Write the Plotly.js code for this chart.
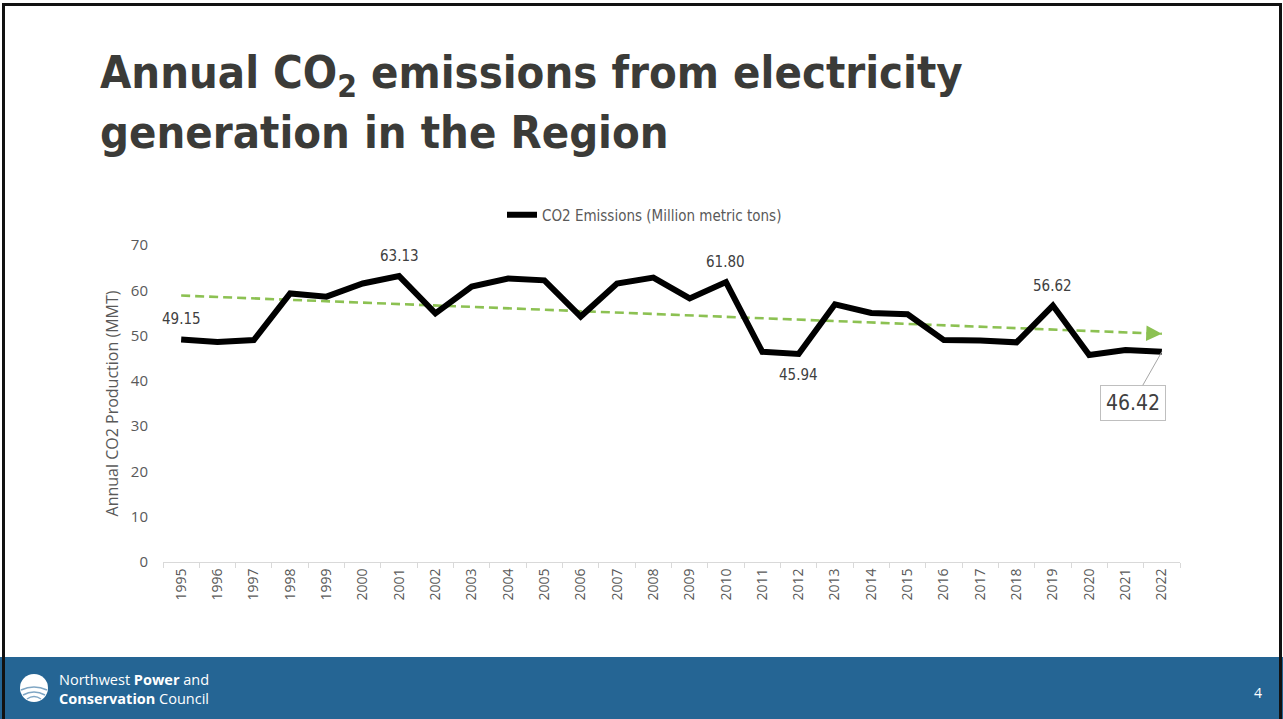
<!DOCTYPE html>
<html>
<head>
<meta charset="utf-8">
<script src="https://cdn.plot.ly/plotly-3.0.1.min.js"></script>
<style>
  html, body { margin: 0; padding: 0; background: #fff; }
  #chart { width: 1283px; height: 719px; }
  #frame { position: absolute; left: 2px; top: 3px; width: 1280px; height: 720px;
           border: 3px solid #111; box-sizing: border-box; pointer-events: none; }
</style>
</head>
<body>
<div id="chart"></div>
<div id="frame"></div>
<script>
// ---- data ----
const years = ['1995','1996','1997','1998','1999','2000','2001','2002','2003','2004',
               '2005','2006','2007','2008','2009','2010','2011','2012','2013','2014',
               '2015','2016','2017','2018','2019','2020','2021','2022'];
const emissions = [49.15, 48.6, 49.0, 59.3, 58.6, 61.5, 63.13, 54.9, 60.8, 62.6,
                   62.2, 54.2, 61.5, 62.8, 58.2, 61.80, 46.4, 45.94, 56.9, 55.0,
                   54.7, 49.0, 48.9, 48.5, 56.62, 45.7, 46.8, 46.42];
const seriesName = 'CO2 Emissions (Million metric tons)';
const labelYearsAbove = ['1995', '2001', '2010', '2019'];
const labelYearsBelow = ['2012'];
const calloutYear = '2022';
const yTickVals = [0, 10, 20, 30, 40, 50, 60, 70];

// ---- linear trendline (least squares on the data) ----
const n = emissions.length;
const idx = emissions.map((_, i) => i);
const mx = idx.reduce((a, b) => a + b, 0) / n;
const my = emissions.reduce((a, b) => a + b, 0) / n;
let sxy = 0, sxx = 0;
for (let i = 0; i < n; i++) { sxy += (i - mx) * (emissions[i] - my); sxx += (i - mx) * (i - mx); }
const slope = sxy / sxx;
const intercept = my - slope * mx;
const trend = idx.map(i => intercept + slope * i);

// ---- pixel helpers for page decoration ----
const W = 1283, H = 719;
const L = 163, R = 1180, T = 245, B = 562;
const px = x => (x - L) / (R - L);
const py = y => (B - y) / (B - T);
const pxPerUnit = (B - T) / 70, pxPerCat = (R - L) / n;

const grey = '#595959';
const chartFont = 'DejaVu Sans Condensed, DejaVu Sans, sans-serif';
const tickFont = 'Open Sans, sans-serif';

const traces = [
  {
    x: years, y: trend, type: 'scatter', mode: 'lines', showlegend: false,
    line: { color: '#8CC152', width: 2.6, dash: '9px,5px' }, hoverinfo: 'skip'
  },
  {
    x: years, y: emissions, type: 'scatter', mode: 'lines', name: seriesName,
    line: { color: '#000000', width: 6 }
  }
];

const annotations = [];
labelYearsAbove.forEach(yr => {
  const i = years.indexOf(yr), v = emissions[i];
  annotations.push({ x: i, y: v, xref: 'x', yref: 'y', text: v.toFixed(2), showarrow: false,
    yshift: 20, font: { family: chartFont, size: 15, color: '#404040' } });
});
labelYearsBelow.forEach(yr => {
  const i = years.indexOf(yr), v = emissions[i];
  annotations.push({ x: i, y: v, xref: 'x', yref: 'y', text: v.toFixed(2), showarrow: false,
    yshift: -21, font: { family: chartFont, size: 15, color: '#404040' } });
});
{
  const i = years.indexOf(calloutYear), v = emissions[i];
  annotations.push({ x: i, y: v, xref: 'x', yref: 'y', text: v.toFixed(2),
    showarrow: true, arrowhead: 0, arrowwidth: 1, arrowcolor: '#A6A6A6', ax: -29, ay: 51,
    bordercolor: '#BFBFBF', borderwidth: 1, borderpad: 5, bgcolor: '#ffffff',
    font: { family: chartFont, size: 21, color: '#404040' } });
}
// trend arrowhead
annotations.push({ x: n - 1, y: trend[n - 1], xref: 'x', yref: 'y', text: '',
  showarrow: true, arrowhead: 2, arrowsize: 1.3, arrowwidth: 2.4, arrowcolor: '#8CC152',
  ax: -14, ay: slope * pxPerUnit * 14 / pxPerCat, standoff: 0 });

// title
const titleFont = { family: 'DejaVu Sans Condensed, DejaVu Sans, sans-serif', size: 45, color: '#3B3B38' };
annotations.push({ xref: 'paper', yref: 'paper', x: px(98), y: py(75), xanchor: 'left', yanchor: 'middle',
  showarrow: false, align: 'left',
  text: '<b>Annual CO<sub>2</sub> emissions from electricity</b>', font: titleFont });
annotations.push({ xref: 'paper', yref: 'paper', x: px(98), y: py(132), xanchor: 'left', yanchor: 'middle',
  showarrow: false, align: 'left',
  text: '<b>generation in the Region</b>', font: titleFont });
// footer text
annotations.push({ xref: 'paper', yref: 'paper', x: px(57), y: py(689), xanchor: 'left', yanchor: 'middle',
  showarrow: false, align: 'left', text: 'Northwest <b>Power</b> and<br><b>Conservation</b> Council',
  font: { family: 'Open Sans, sans-serif', size: 14.5, color: '#ffffff' } });
annotations.push({ xref: 'paper', yref: 'paper', x: px(1258), y: py(692), xanchor: 'center', yanchor: 'middle',
  showarrow: false, text: '4',
  font: { family: 'Open Sans, sans-serif', size: 14, color: '#ffffff' } });

const shapes = [
  { type: 'rect', xref: 'paper', yref: 'paper', x0: px(0), x1: px(W), y0: py(657), y1: py(H + 2),
    fillcolor: '#256594', line: { width: 0 }, layer: 'below' },
  { type: 'circle', xref: 'paper', yref: 'paper', x0: px(20), x1: px(48), y0: py(674), y1: py(702),
    fillcolor: '#ffffff', line: { width: 0 } },
  { type: 'path', xref: 'paper', yref: 'paper',
    path: `M ${px(21)} ${py(690)} Q ${px(34)} ${py(684)} ${px(47)} ${py(690)}`,
    line: { color: '#7FA6C4', width: 1.5 } },
  { type: 'path', xref: 'paper', yref: 'paper',
    path: `M ${px(23)} ${py(695)} Q ${px(34)} ${py(689)} ${px(45)} ${py(695)}`,
    line: { color: '#7FA6C4', width: 1.5 } },
  { type: 'path', xref: 'paper', yref: 'paper',
    path: `M ${px(27)} ${py(699)} Q ${px(34)} ${py(694)} ${px(41)} ${py(699)}`,
    line: { color: '#7FA6C4', width: 1.5 } }
];

const layout = {
  width: W, height: H,
  margin: { l: L, r: W - R, t: T, b: H - B, pad: 0 },
  paper_bgcolor: '#ffffff', plot_bgcolor: '#ffffff',
  showlegend: true,
  legend: { orientation: 'h', x: px(502), xanchor: 'left', y: py(215), yanchor: 'middle',
            font: { family: chartFont, size: 15, color: grey }, bgcolor: 'rgba(0,0,0,0)' },
  xaxis: {
    type: 'category', showgrid: false, zeroline: false,
    showline: true, linecolor: '#D9D9D9', linewidth: 1,
    ticks: 'outside', tickson: 'boundaries', ticklen: 5, tickcolor: '#D9D9D9',
    tickangle: -90, tickfont: { family: tickFont, size: 14, color: grey },
    range: [-0.5, n - 0.5]
  },
  yaxis: {
    range: [0, 70], tickvals: yTickVals, showgrid: false, zeroline: false, showline: false,
    ticks: '', ticklabelstandoff: 14,
    tickfont: { family: tickFont, size: 15, color: grey },
    title: { text: 'Annual CO2 Production (MMT)', standoff: 8,
             font: { family: tickFont, size: 16, color: grey } }
  },
  annotations: annotations,
  shapes: shapes
};

Plotly.newPlot('chart', traces, layout, { displayModeBar: false, staticPlot: true });
</script>
</body>
</html>
